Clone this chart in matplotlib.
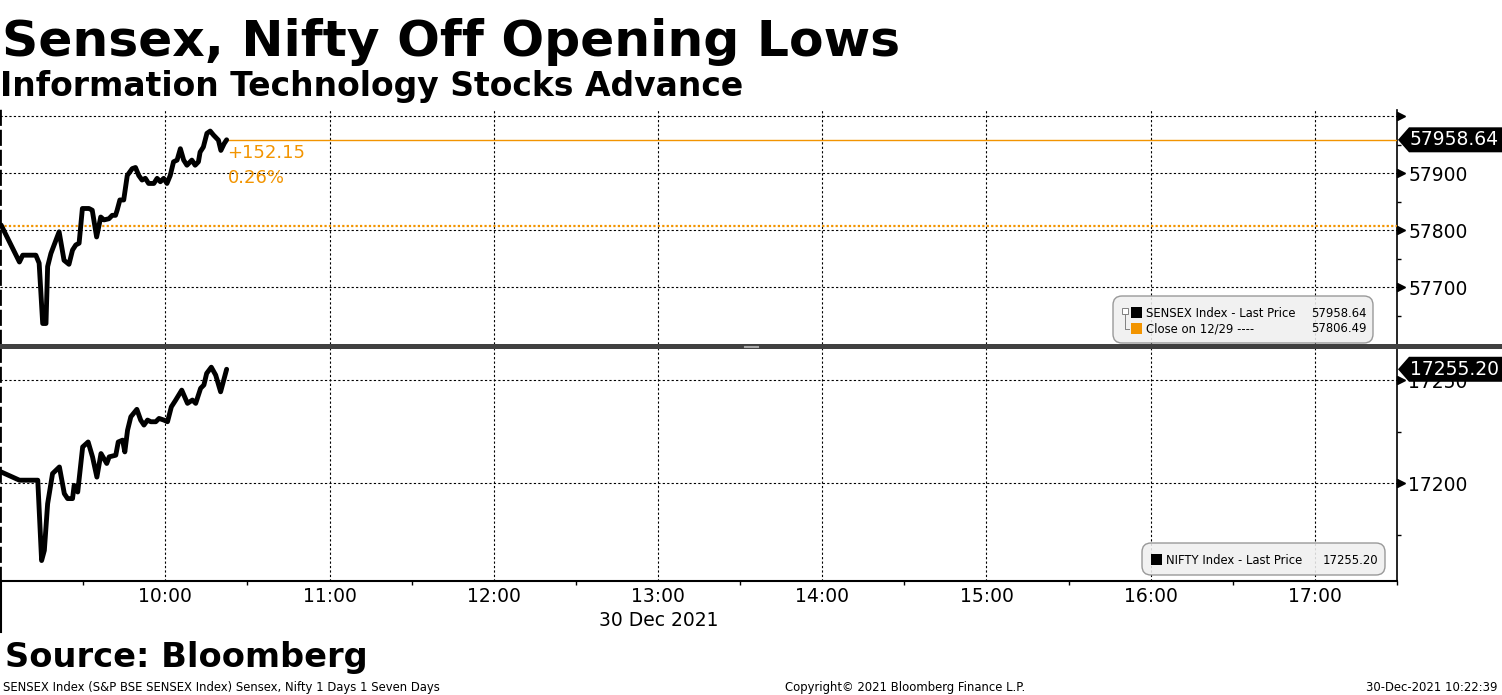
import matplotlib
matplotlib.use("Agg")
import matplotlib.pyplot as plt
import matplotlib.patches as mpatches
import matplotlib.transforms as mtransforms
from matplotlib.lines import Line2D

# minutes after 09:00 and index levels
sensex_t = [0, 6.7, 7.9, 12.7, 13.9, 15.2, 16.4, 17.0, 18.2, 21.2, 23.0, 24.8, 26.1, 27.3,
            28.5, 29.7, 32.1, 33.3, 34.9, 36.4, 37.6, 39.4, 40.6, 41.8, 42.4, 43.4, 44.8,
            46.1, 47.9, 49.1, 50.3, 51.5, 52.7, 53.9, 55.8, 57.0, 58.2, 59.4, 60.6, 61.8,
            63.0, 64.3, 65.5, 66.7, 67.9, 69.7, 70.9, 72.1, 72.7, 73.9, 75.2, 76.4, 77.6,
            79.4, 80.3, 81.5, 82.4]
sensex_v = [57809, 57744, 57756, 57756, 57742, 57636, 57636, 57736, 57759, 57797, 57747,
            57740, 57765, 57774, 57777, 57838, 57838, 57835, 57788, 57823, 57818, 57820,
            57826, 57826, 57835, 57853, 57853, 57896, 57908, 57910, 57896, 57888, 57891,
            57882, 57882, 57891, 57885, 57891, 57882, 57896, 57920, 57923, 57943, 57923,
            57914, 57923, 57914, 57920, 57937, 57946, 57970, 57974, 57967, 57958, 57940,
            57952, 57958.64]

nifty_t = [0, 6.7, 13.4, 14.8, 15.8, 17.0, 18.8, 21.3, 23.1, 24.3, 26.1, 26.7, 28.0, 29.8,
           31.8, 33.4, 35.0, 36.5, 38.6, 39.5, 41.9, 42.8, 44.4, 45.2, 46.2, 47.4, 49.6,
           51.0, 52.2, 53.5, 54.7, 56.5, 57.7, 59.5, 60.8, 62.2, 63.8, 66.0, 68.1, 69.9,
           71.1, 72.9, 74.1, 75.1, 76.8, 78.4, 80.2, 82.4]
nifty_v = [17205.5, 17201.5, 17201.5, 17162.6, 17167.5, 17190.1, 17204.7, 17207.9, 17195.0,
           17192.6, 17192.6, 17199.0, 17195.8, 17217.6, 17220.0, 17212.8, 17203.0, 17214.4,
           17209.6, 17212.8, 17213.6, 17220.0, 17220.9, 17215.2, 17225.7, 17232.2, 17235.8,
           17230.6, 17228.2, 17230.6, 17229.8, 17229.8, 17231.4, 17230.6, 17229.8, 17237.0,
           17240.3, 17245.1, 17238.7, 17240.3, 17238.7, 17246.0, 17247.6, 17253.2, 17256.2,
           17252.4, 17244.3, 17255.2]

sensex_last = 57958.64
sensex_close = 57806.49
nifty_last = 17255.20
chg_text = ["+152.15", "0.26%"]

hour_labels = ["10:00", "11:00", "12:00", "13:00", "14:00", "15:00", "16:00", "17:00"]
sensex_ticks = [57700, 57800, 57900, 58000]
nifty_ticks = [17200, 17250]

ORANGE = "#F29400"
W, H = 1502, 695


def fx(x):
    return x / W


def fy(y):
    return 1 - y / H


fig = plt.figure(figsize=(W / 100, H / 100), dpi=100)
ax1 = fig.add_axes([0, fy(344), fx(1397), (344 - 110) / H])
ax2 = fig.add_axes([0, fy(581), fx(1397), (581 - 348) / H])

hour_pos = [60 * (i + 1) for i in range(len(hour_labels))]
half_pos = [30 + 60 * i for i in range(9)]

for ax in (ax1, ax2):
    ax.set_xlim(-0.4, 508.8)
    ax.spines["top"].set_visible(False)
    ax.spines["left"].set_linestyle((0, (4.8, 2.4)))
    ax.spines["left"].set_linewidth(2)
    ax.spines["right"].set_linewidth(1.2)
    ax.yaxis.tick_right()
    for h in hour_pos:
        ax.axvline(h, color="black", lw=0.8, ls=(0, (2, 2)), zorder=3)
    ax.set_xticks(hour_pos)
    ax.set_xticks(half_pos, minor=True)

ax1.spines["bottom"].set_visible(False)
ax1.tick_params(axis="x", which="both", length=0, labelbottom=False)
ax2.spines["bottom"].set_linewidth(1.5)
ax2.set_xticklabels(hour_labels)
ax2.tick_params(axis="x", which="major", length=0, pad=4, labelsize=13.5)
ax2.tick_params(axis="x", which="minor", length=3, width=1, direction="out")

# top panel: sensex
ax1.set_ylim(57600, 58011)
ax1.set_yticks(sensex_ticks)
ax1.set_yticks([57650, 57750, 57850, 57950], minor=True)
ax1.set_yticklabels([str(v) for v in sensex_ticks[:-1]] + [""])
ax1.plot(sensex_t, sensex_v, color="black", lw=3.5, solid_joinstyle="round",
         solid_capstyle="round", zorder=5)
for v in sensex_ticks:
    ax1.axhline(v, color="black", lw=0.8, ls=(0, (2, 2)), zorder=3)
ax1.axhline(sensex_close, color=ORANGE, lw=1.6, ls=(0, (1, 1)), zorder=4)
xmin_frac = (sensex_t[-1] + 0.4) / 509.2
ax1.axhline(sensex_last, xmin=xmin_frac, color=ORANGE, lw=1, zorder=4)
ax1.text(sensex_t[-1] + 0.3, 57936, chg_text[0], color=ORANGE, fontsize=13,
         ha="left", va="center", zorder=6)
ax1.text(sensex_t[-1] + 0.3, 57892, chg_text[1], color=ORANGE, fontsize=13,
         ha="left", va="center", zorder=6)

# bottom panel: nifty
ax2.set_ylim(17152.7, 17265.5)
ax2.set_yticks(nifty_ticks)
ax2.set_yticks([17175, 17225], minor=True)
ax2.set_yticklabels([str(v) for v in nifty_ticks])
ax2.plot(nifty_t, nifty_v, color="black", lw=3.5, solid_joinstyle="round",
         solid_capstyle="round", zorder=5)
for v in nifty_ticks:
    ax2.axhline(v, color="black", lw=0.8, ls=(0, (2, 2)), zorder=3)

for ax, ticks in ((ax1, sensex_ticks), (ax2, nifty_ticks)):
    ax.tick_params(axis="y", which="major", length=0, pad=8, labelsize=13.5)
    ax.tick_params(axis="y", which="minor", length=3, width=1, direction="out")
    tr = mtransforms.blended_transform_factory(ax.transAxes, ax.transData)
    ax.plot([1 + 4 / 1397] * len(ticks), ticks, ls="none", marker=">", ms=6,
            color="black", transform=tr, clip_on=False, zorder=6)

fig.canvas.draw()


def price_tag(ax, value, label):
    ydisp = ax.transData.transform((0, value))[1]
    yc = 1 - (H - ydisp) / H
    x0 = fx(1398)
    x1 = fx(1502)
    xk = fx(1409)
    hh = 12.5 / H
    poly = mpatches.Polygon([(x0, yc), (xk, yc + hh), (x1, yc + hh), (x1, yc - hh),
                             (xk, yc - hh)], closed=True, facecolor="black",
                            edgecolor="none", transform=fig.transFigure, zorder=10)
    fig.patches.append(poly)
    fig.text(fx(1499), yc, label, color="white", fontsize=13.5, ha="right",
             va="center", zorder=11)


price_tag(ax1, sensex_last, f"{sensex_last:.2f}")
price_tag(ax2, nifty_last, f"{nifty_last:.2f}")

# separator between panels
fig.patches.append(mpatches.Rectangle((0, fy(348.5)), 1, 5 / H, facecolor="#404040",
                                      edgecolor="none", transform=fig.transFigure,
                                      zorder=9))
for yy in (345.6, 347.2):
    fig.lines.append(Line2D([fx(744), fx(758)], [fy(yy), fy(yy)], color="#a8a8a8",
                            lw=0.8, transform=fig.transFigure, zorder=10))
# day start line below axis
fig.lines.append(Line2D([fx(0.8), fx(0.8)], [fy(581), fy(632)], color="black", lw=1.5,
                        transform=fig.transFigure))


def legend_box(x0, y0, x1, y1):
    box = mpatches.FancyBboxPatch((fx(x0), fy(y1)), fx(x1 - x0), (y1 - y0) / H,
                                  boxstyle="round,pad=0,rounding_size=0.006",
                                  facecolor="#f0f0f0", edgecolor="#8c8c8c", lw=1,
                                  alpha=0.88, transform=fig.transFigure, zorder=7,
                                  mutation_aspect=W / H)
    fig.patches.append(box)


def swatch(x, y, color):
    fig.patches.append(mpatches.Rectangle((fx(x), fy(y + 11)), fx(11), 11 / H,
                                          facecolor=color, edgecolor="none",
                                          transform=fig.transFigure, zorder=8))


LEG_FS = 8.4
legend_box(1113, 296, 1373, 343)
swatch(1131, 307, "black")
swatch(1131, 323, ORANGE)
fig.patches.append(mpatches.Rectangle((fx(1122), fy(314)), fx(6), 6 / H, facecolor="white",
                                      edgecolor="#808080", lw=0.7,
                                      transform=fig.transFigure, zorder=8))
fig.lines.append(Line2D([fx(1125), fx(1125), fx(1129)], [fy(314), fy(329), fy(329)],
                        color="#808080", lw=0.7, transform=fig.transFigure, zorder=8))
fig.text(fx(1146), fy(313), "SENSEX Index - Last Price", fontsize=LEG_FS, va="center",
         zorder=8)
fig.text(fx(1367), fy(313), f"{sensex_last:.2f}", fontsize=LEG_FS, va="center",
         ha="right", zorder=8)
fig.text(fx(1146), fy(329), "Close on 12/29 ----", fontsize=LEG_FS, va="center", zorder=8)
fig.text(fx(1367), fy(329), f"{sensex_close:.2f}", fontsize=LEG_FS, va="center",
         ha="right", zorder=8)

legend_box(1142, 543, 1385, 575)
swatch(1151, 554, "black")
fig.text(fx(1166), fy(560), "NIFTY Index - Last Price", fontsize=LEG_FS, va="center",
         zorder=8)
fig.text(fx(1378), fy(560), f"{nifty_last:.2f}", fontsize=LEG_FS, va="center", ha="right",
         zorder=8)

# titles and footer
fig.text(fx(2), fy(56), "Sensex, Nifty Off Opening Lows", fontsize=36.3, fontweight="bold",
         va="baseline")
fig.text(fx(0), fy(96), "Information Technology Stocks Advance", fontsize=23.8,
         fontweight="bold", va="baseline")
fig.text(fx(659), fy(620), "30 Dec 2021", fontsize=13.5, ha="center", va="center")
fig.text(fx(5), fy(667), "Source: Bloomberg", fontsize=24.2, fontweight="bold",
         va="baseline")
fig.text(fx(3), fy(691), "SENSEX Index (S&P BSE SENSEX Index) Sensex, Nifty 1 Days 1 Seven Days",
         fontsize=8.4, va="baseline")
fig.text(fx(905), fy(691), "Copyright\u00a9 2021 Bloomberg Finance L.P.", fontsize=8.4,
         ha="center", va="baseline")
fig.text(fx(1498), fy(691), "30-Dec-2021 10:22:39", fontsize=8.4, ha="right", va="baseline")

fig.savefig("out.png", dpi=100)
